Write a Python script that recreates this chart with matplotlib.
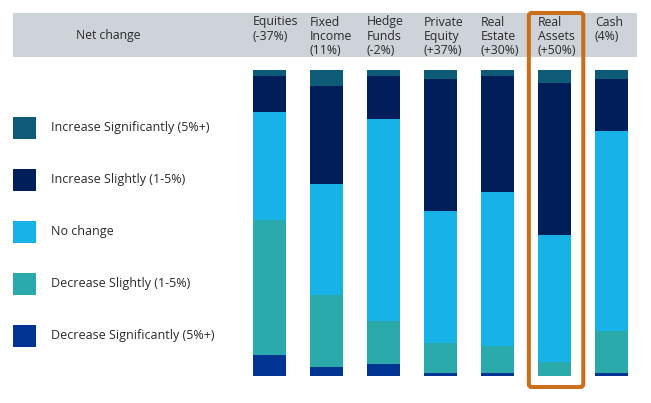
import matplotlib
matplotlib.use("Agg")
import matplotlib.pyplot as plt
from matplotlib.patches import Rectangle, FancyBboxPatch
from matplotlib.transforms import blended_transform_factory
import numpy as np

plt.rcParams['font.family'] = ['Open Sans', 'DejaVu Sans']

categories = ["Equities\n(-37%)", "Fixed\nIncome\n(11%)", "Hedge\nFunds\n(-2%)",
              "Private\nEquity\n(+37%)", "Real\nEstate\n(+30%)", "Real\nAssets\n(+50%)",
              "Cash\n(4%)"]
series_names = ["Increase Significantly (5%+)", "Increase Slightly (1-5%)", "No change",
                "Decrease Slightly (1-5%)", "Decrease Significantly (5%+)"]
inc_sig = [2.0, 6.3, 2.0, 4.0, 2.0, 4.1, 2.9]
inc_sl = [11.9, 31.8, 14.1, 43.0, 38.0, 49.8, 17.0]
no_chg = [35.2, 36.5, 66.0, 43.1, 50.1, 41.4, 65.3]
dec_sl = [44.1, 23.6, 14.1, 10.0, 9.0, 4.7, 13.9]
dec_sig = [6.9, 2.8, 3.9, 0.9, 0.9, 0.0, 0.9]
colors = ["#0E5B78", "#001E5A", "#17B3E8", "#2AAAAA", "#023493"]
header_title = "Net change"
highlight_index = 5

W, H = 651, 403
fig = plt.figure(figsize=(W / 100, H / 100), dpi=100)
txt_color = "#2A2A2A"

# axes mapping: bar bottom at y=376 px, 100% at y=70 px
ax = fig.add_axes([241 / W, (H - 376) / H, (640 - 241) / W, 306 / H])
ax.set_xlim(-0.5, 6.5)
ax.set_ylim(0, 100)
ax.axis("off")

x = np.arange(len(categories))
stack_bottom_to_top = [dec_sig, dec_sl, no_chg, inc_sl, inc_sig]
stack_colors = colors[::-1]
bottom = np.zeros(len(categories))
for vals, col in zip(stack_bottom_to_top, stack_colors):
    vals = np.array(vals)
    ax.bar(x, vals, width=0.58, bottom=bottom, color=col, linewidth=0)
    bottom += vals

# header band (behind everything)
fig.patches.append(Rectangle((13 / W, 1 - 57 / H), (637 - 13) / W, 44 / H,
                             transform=fig.transFigure, facecolor="#CDD3D8",
                             edgecolor="none", zorder=-1))
fig.text(108 / W, 1 - 35 / H, header_title, ha="center", va="center",
         fontsize=8.8, color=txt_color)

trans = blended_transform_factory(ax.transData, fig.transFigure)
for i, lab in enumerate(categories):
    ax.text(i - 0.29, 1 - 15.5 / H, lab, transform=trans, ha="left", va="top",
            fontsize=8.8, color=txt_color, linespacing=1.12, clip_on=False)

# highlight box around Real Assets
hb = FancyBboxPatch((0, 0), 1, 1,
                    boxstyle="round,pad=0,rounding_size=0.05",
                    mutation_aspect=57 / H,
                    transform=trans,
                    facecolor="none", edgecolor="#C96F1C", linewidth=2.9,
                    clip_on=False, zorder=5)
hb.set_bounds(highlight_index - 0.45, 1 - 387 / H, 0.955, (387 - 13) / H)
fig.patches.append(hb)

# legend
for k, (name, col) in enumerate(zip(series_names, colors)):
    yc = 128 + 52 * k
    fig.patches.append(Rectangle((13 / W, 1 - (yc + 11) / H), 23 / W, 22 / H,
                                 transform=fig.transFigure, facecolor=col,
                                 edgecolor="none"))
    fig.text(51 / W, 1 - yc / H, name, ha="left", va="center",
             fontsize=9.0, color=txt_color)

fig.savefig("out.png", dpi=100)
